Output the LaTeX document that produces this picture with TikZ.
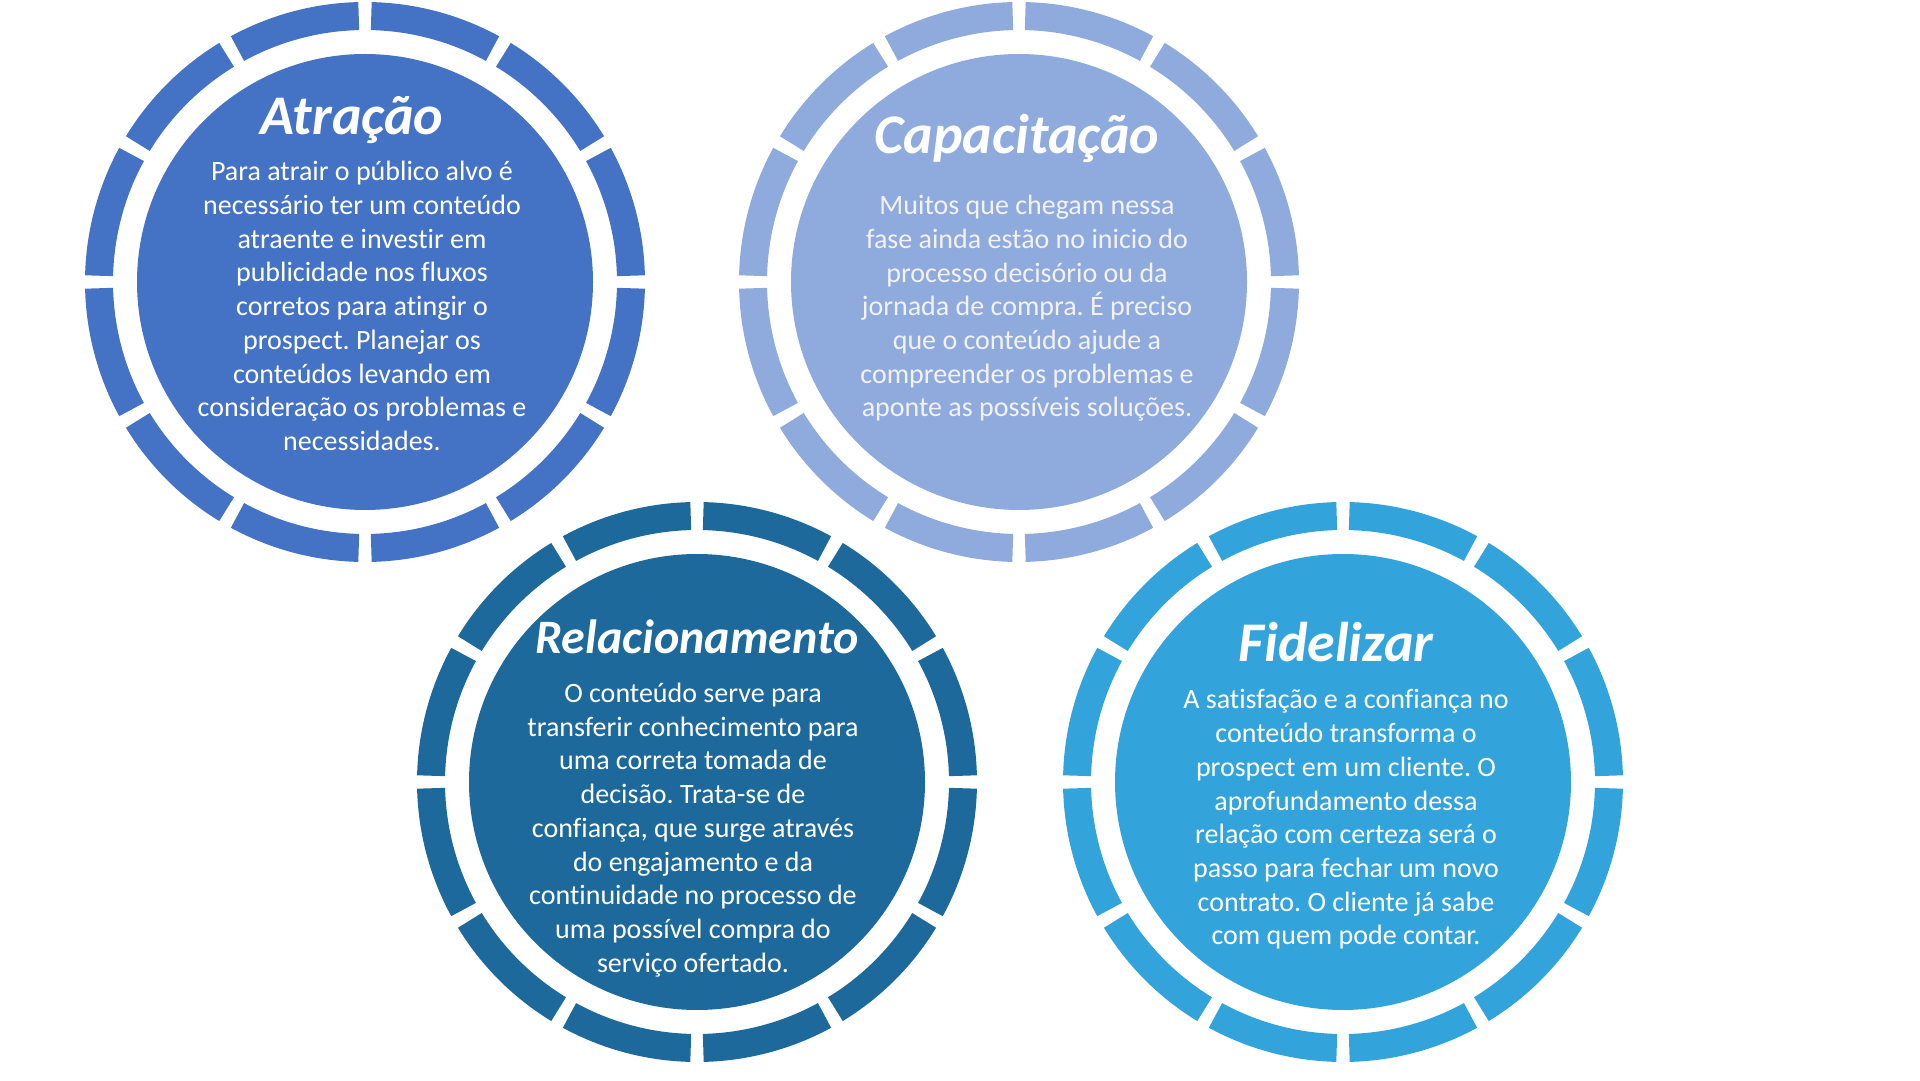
\documentclass[tikz,border=0pt]{standalone}
\usepackage{fontspec}
\setmainfont{Carlito}[Ligatures=CommonOff]
\usetikzlibrary{positioning}
\frenchspacing
\definecolor{atrBlue}{HTML}{4472C4}
\definecolor{capBlue}{HTML}{8FAADC}
\definecolor{relBlue}{HTML}{1D699C}
\definecolor{fidBlue}{HTML}{33A4DB}
\definecolor{softWhite}{HTML}{F2F2F2}
\tikzset{
  disc/.style={circle, fill=#1, minimum size=456pt, inner sep=0pt},
  ringseg/.style={line width=28pt, draw=#1},
  phasetitle/.style={anchor=base, text=white, font=\fontsize{56}{64}\selectfont\bfseries\itshape},
  phasebody/.style={align=center, text=white, font=\fontsize{28}{33.7}\selectfont}
}

\begin{document}
\begin{tikzpicture}[x=1pt,y=1pt]
	\useasboundingbox (0,0) rectangle (1920,1080);
	% Discs
	\node[disc=atrBlue] (atr) at (365,798) {};
	\node[disc=capBlue] (cap) at (1019,798) {};
	\node[disc=relBlue] (rel) at (697,298) {};
	\node[disc=fidBlue] (fid) at (1343,298) {};
	% Segmented rings
	\foreach \c/\col in {atr/atrBlue, cap/capBlue, rel/relBlue, fid/fidBlue}
		\foreach \a in {0,30,...,330}
			\draw[ringseg=\col] (\c.center) ++(\a+1.35:266) arc[start angle=\a+1.35, end angle=\a+28.65, radius=266];
	% Titles
	\node[phasetitle] (atrTitle) at ([shift={(-13,147)}]atr.center) {Atração};
	\node[phasetitle] (capTitle) at ([shift={(-2,128)}]cap.center) {Capacitação};
	\node[phasetitle, font=\fontsize{48}{56}\selectfont\bfseries\itshape] (relTitle) at ([shift={(0,128)}]rel.center) {Relacionamento};
	\node[phasetitle] (fidTitle) at ([shift={(-7,120)}]fid.center) {Fidelizar};
	% Texts
	\node[phasebody] (atrText) at ([shift={(-3,-24)}]atr.center) {Para atrair o público alvo é\\necessário ter um conteúdo\\atraente e investir em\\publicidade nos fluxos\\corretos para atingir o\\prospect. Planejar os\\conteúdos levando em\\consideração os problemas e\\necessidades.};
	\node[phasebody, text=softWhite] (capText) at ([shift={(8,-26.5)}]cap.center) {Muitos que chegam nessa\\fase ainda estão no inicio do\\processo decisório ou da\\jornada de compra. É preciso\\que o conteúdo ajude a\\compreender os problemas e\\aponte as possíveis soluções.};
	\node[phasebody] (relText) at ([shift={(-4,-48)}]rel.center) {O conteúdo serve para\\transferir conhecimento para\\uma correta tomada de\\decisão. Trata-se de\\confiança, que surge através\\do engajamento e da\\continuidade no processo de\\uma possível compra do\\serviço ofertado.};
	\node[phasebody] (fidText) at ([shift={(3,-37.5)}]fid.center) {A satisfação e a confiança no\\conteúdo transforma o\\prospect em um cliente. O\\aprofundamento dessa\\relação com certeza será o\\passo para fechar um novo\\contrato. O cliente já sabe\\com quem pode contar.};
\end{tikzpicture}
\end{document}
